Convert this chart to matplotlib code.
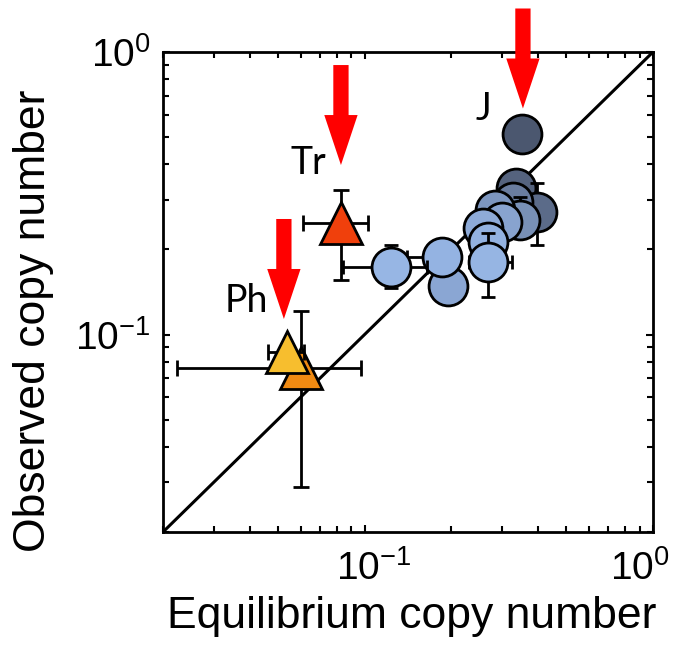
import matplotlib
matplotlib.use('Agg')
import matplotlib.pyplot as plt
import matplotlib.transforms as mtransforms
from matplotlib.ticker import LogLocator, NullFormatter

plt.rcParams['font.family'] = ['Liberation Sans', 'DejaVu Sans']
plt.rcParams['mathtext.fontset'] = 'custom'
plt.rcParams['mathtext.rm'] = 'Liberation Sans'
plt.rcParams['mathtext.it'] = 'Liberation Sans:italic'

# circles (darkest first so the lighter ones sit on top)
circ_x = [0.335, 0.396, 0.327, 0.346, 0.283, 0.300, 0.2575, 0.268, 0.1945, 0.1855, 0.268, 0.1236]
circ_y = [0.330, 0.271, 0.294, 0.254, 0.276, 0.250, 0.238, 0.2126, 0.1485, 0.188, 0.1806, 0.173]
circ_xlo = [0, 0, 0, 0, 0, 0, 0, 0, 0, 0.045, 0.038, 0.0395]
circ_xhi = [0, 0, 0, 0, 0, 0, 0, 0, 0, 0.0, 0.056, 0.041]
circ_ylo = [0, 0.064, 0, 0.03, 0, 0, 0, 0.018, 0, 0, 0.045, 0.027]
circ_yhi = [0, 0.073, 0, 0.052, 0, 0, 0, 0.018, 0, 0, 0.048, 0.034]
circ_col = ['#55637e', '#5b6b89', '#6a7d9f', '#7890b6', '#7d96bf', '#88a3cf',
            '#8eabd8', '#93b2e0', '#8aa6d3', '#94b3e2', '#96b5e3', '#97b6e4']

# J
j_x, j_y = 0.352, 0.513
j_col = '#4b576f'

# triangles: orange, yellow (Ph), red (Tr)
tri_x = [0.0602, 0.0538, 0.0828]
tri_y = [0.0761, 0.0867, 0.248]
tri_xlo = [0.0378, 0.0076, 0.0216]
tri_xhi = [0.037, 0.008, 0.020]
tri_ylo = [0.0472, 0.0, 0.092]
tri_yhi = [0.0449, 0.0, 0.077]
tri_col = ['#f08a12', '#f7be2e', '#f0400c']

# labels and red arrows
lab_txt = ['J', 'Tr', 'Ph']
lab_x = [0.2576, 0.0636, 0.0388]
lab_y = [0.628, 0.4046, 0.1314]
arr_x = [0.354, 0.0828, 0.0525]
arr_y = [0.631, 0.398, 0.1135]

fig = plt.figure(figsize=(6.79, 6.49), dpi=100)
ax = fig.add_axes([163/679, 1-532/649, 490/679, 480/649])
ax.set_xscale('log')
ax.set_yscale('log')
ax.set_xlim(0.02, 1)
ax.set_ylim(0.02, 1)

ax.plot([0.02, 1], [0.02, 1], color='k', lw=2.2, zorder=1)

z = 2
for i in range(len(tri_x)):
    ax.errorbar(tri_x[i], tri_y[i], xerr=[[tri_xlo[i]], [tri_xhi[i]]],
                yerr=[[tri_ylo[i]], [tri_yhi[i]]], fmt='none', ecolor='k',
                elinewidth=2, capsize=6, capthick=2, zorder=z)
    ax.plot(tri_x[i], tri_y[i], marker='^', ms=30, mfc=tri_col[i], mec='k', mew=2,
            ls='none', zorder=z + 0.5)
    z += 1

ax.plot(j_x, j_y, marker='o', ms=28, mfc=j_col, mec='k', mew=2, ls='none', zorder=z)
z += 1
for i in range(len(circ_x)):
    ax.errorbar(circ_x[i], circ_y[i], xerr=[[circ_xlo[i]], [circ_xhi[i]]],
                yerr=[[circ_ylo[i]], [circ_yhi[i]]], fmt='none', ecolor='k',
                elinewidth=2, capsize=5, capthick=2, zorder=z)
    ax.plot(circ_x[i], circ_y[i], marker='o', ms=28, mfc=circ_col[i], mec='k', mew=2,
            ls='none', zorder=z + 0.5)
    z += 1

for i in range(3):
    ax.text(lab_x[i], lab_y[i], lab_txt[i], fontsize=27, family='Lato',
            ha='center', va='center', zorder=50)
    ax.annotate('', xy=(arr_x[i], arr_y[i]), xytext=(0, 72), textcoords='offset points',
                arrowprops=dict(arrowstyle='simple,head_width=24,head_length=36,tail_width=11',
                                fc='#ff0000', ec='none', lw=0, mutation_scale=1,
                                shrinkA=0, shrinkB=0),
                annotation_clip=False, zorder=60)

ax.xaxis.set_major_locator(LogLocator(base=10))
ax.yaxis.set_major_locator(LogLocator(base=10))
ax.xaxis.set_minor_locator(LogLocator(base=10, subs=range(2, 10)))
ax.yaxis.set_minor_locator(LogLocator(base=10, subs=range(2, 10)))
ax.xaxis.set_minor_formatter(NullFormatter())
ax.yaxis.set_minor_formatter(NullFormatter())
ax.tick_params(which='both', direction='in', top=True, right=True, width=1.5)
ax.tick_params(which='major', length=5, labelsize=28, pad=9)
ax.tick_params(which='minor', length=4)
ax.tick_params(axis='x', which='major', pad=13)
for s in ax.spines.values():
    s.set_linewidth(2)

# nudge the x tick labels like the reference (10^0 kept inside the figure)
fig.canvas.draw()
shifts = {-1: 9, 0: -13}
for tick in ax.xaxis.get_major_ticks():
    loc = tick.get_loc()
    if abs(loc - 0.1) < 1e-9:
        dx = shifts[-1]
    elif abs(loc - 1.0) < 1e-9:
        dx = shifts[0]
    else:
        continue
    lbl = tick.label1
    lbl.set_transform(lbl.get_transform() + mtransforms.Affine2D().translate(dx, 0))

ax.set_xlabel('Equilibrium copy number', fontsize=32)
ax.set_ylabel('Observed copy number', fontsize=32)
ax.xaxis.set_label_coords(0.508, -0.133)
ax.yaxis.set_label_coords(-0.222, 0.44)

fig.savefig('out.png', dpi=100)
